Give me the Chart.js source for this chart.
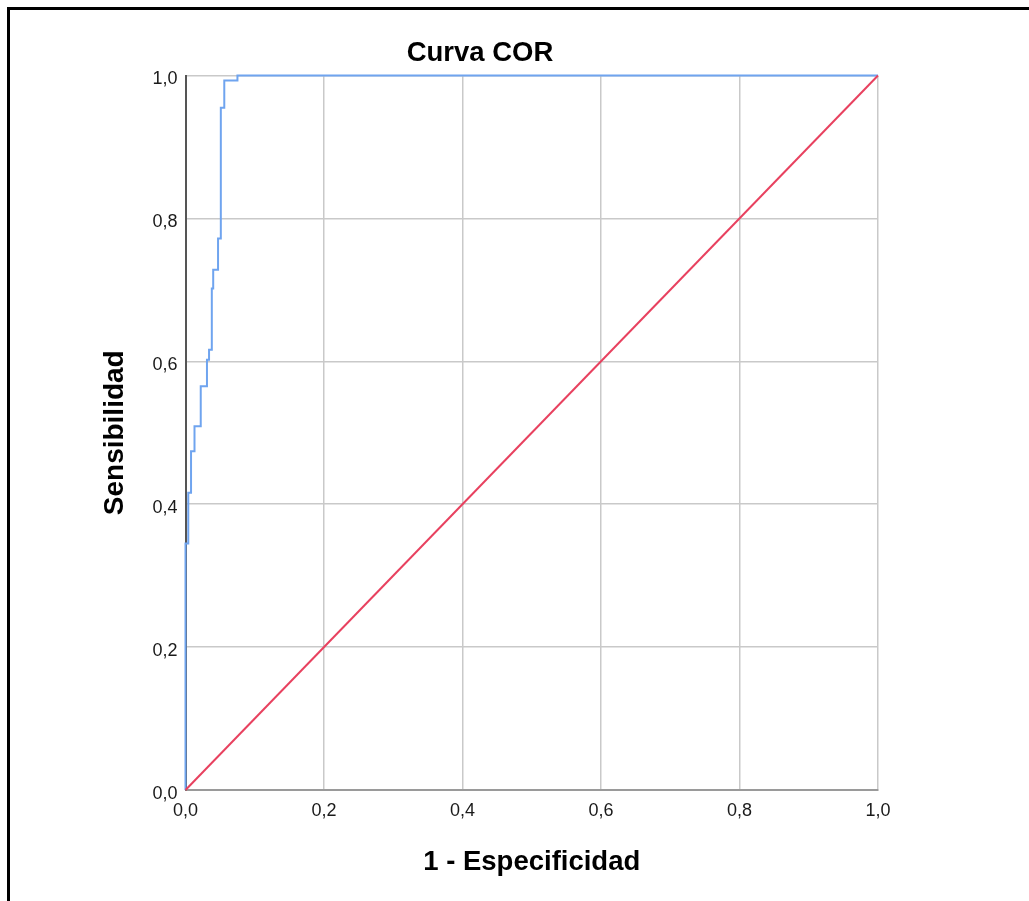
<!DOCTYPE html>
<html>
<head>
<meta charset="utf-8">
<script src="https://cdn.jsdelivr.net/npm/chart.js@4/dist/chart.umd.min.js"></script>
<style>
  html, body { margin: 0; padding: 0; background: #fff; width: 1029px; height: 901px; overflow: hidden; }
  #frame { position: absolute; left: 7px; top: 7px; width: 1040px; height: 910px;
           border-top: 3px solid #000; border-left: 3px solid #000; pointer-events: none; }
  #c { position: absolute; left: 0; top: 0; }
</style>
</head>
<body>
<canvas id="c" width="960" height="901"></canvas>
<div id="frame"></div>
<script>
// ROC curve (1 - specificity, sensitivity)
const fpr = [0, 0, 0.004, 0.008, 0.013, 0.022, 0.031, 0.034, 0.038, 0.040, 0.047, 0.051, 0.056, 0.075, 1];
const tpr = [0, 0.345, 0.416, 0.474, 0.509, 0.565, 0.602, 0.616, 0.702, 0.728, 0.772, 0.955, 0.993, 1, 1];
// Reference line
const refX = [0, 1];
const refY = [0, 1];
const tickLabels = ['0,0', '0,2', '0,4', '0,6', '0,8', '1,0'];
const titleText = 'Curva COR';
const xTitle = '1 - Especificidad';
const yTitle = 'Sensibilidad';

const FONT = "'Liberation Sans', Arial, sans-serif";
const gridColor = '#c9c9c9';

const rocData = fpr.map((x, i) => ({ x: x, y: tpr[i] }));
const refData = refX.map((x, i) => ({ x: x, y: refY[i] }));

function tickCb(value) {
  const i = Math.round(value * 5);
  return tickLabels[i] !== undefined ? tickLabels[i] : '';
}

new Chart(document.getElementById('c'), {
  type: 'scatter',
  data: {
    datasets: [
      {
        label: 'Referencia',
        data: refData,
        showLine: true,
        borderColor: '#e8415f',
        borderWidth: 2,
        pointRadius: 0,
        clip: 6
      },
      {
        label: 'ROC',
        data: rocData,
        showLine: true,
        stepped: 'before',
        borderColor: '#6fa4ef',
        borderWidth: 2,
        pointRadius: 0,
        clip: 6
      }
    ]
  },
  options: {
    responsive: false,
    animation: false,
    events: [],
    layout: { padding: { left: 82, right: 82, top: 36.5, bottom: 0 } },
    plugins: {
      legend: { display: false },
      tooltip: { enabled: false },
      title: {
        display: true,
        text: titleText,
        color: '#000',
        font: { family: FONT, size: 27.5, weight: 'bold', lineHeight: 1.2 },
        padding: { top: 0, bottom: 6 }
      }
    },
    scales: {
      x: {
        type: 'linear',
        min: 0, max: 1,
        ticks: { stepSize: 0.2, callback: tickCb, color: '#1a1a1a', padding: 10,
                 font: { family: FONT, size: 18 }, maxRotation: 0 },
        grid: { drawTicks: false, lineWidth: 1.5,
                color: (ctx) => ctx.index === 0 ? 'rgba(0,0,0,0)' : gridColor },
        border: { display: true, color: '#9a9a9a', width: 2 },
        title: { display: true, text: xTitle, color: '#000',
                 font: { family: FONT, size: 27.5, weight: 'bold', lineHeight: 1.2 },
                 padding: { top: 0, bottom: 22.5 } },
        afterFit: (s) => { s.height = 111; }
      },
      y: {
        type: 'linear',
        min: 0, max: 1,
        ticks: { stepSize: 0.2, callback: tickCb, color: '#1a1a1a', padding: 8, labelOffset: 4,
                 font: { family: FONT, size: 18 } },
        grid: { drawTicks: false, lineWidth: 1.5,
                color: (ctx) => ctx.index === 0 ? 'rgba(0,0,0,0)' : gridColor },
        border: { display: true, color: '#555', width: 2 },
        title: { display: true, text: yTitle, color: '#000',
                 font: { family: FONT, size: 28, weight: 'bold', lineHeight: 1.2 },
                 padding: { top: 16.2, bottom: 0 } },
        afterFit: (s) => { s.width = 103.5; }
      }
    }
  }
});
</script>
</body>
</html>
